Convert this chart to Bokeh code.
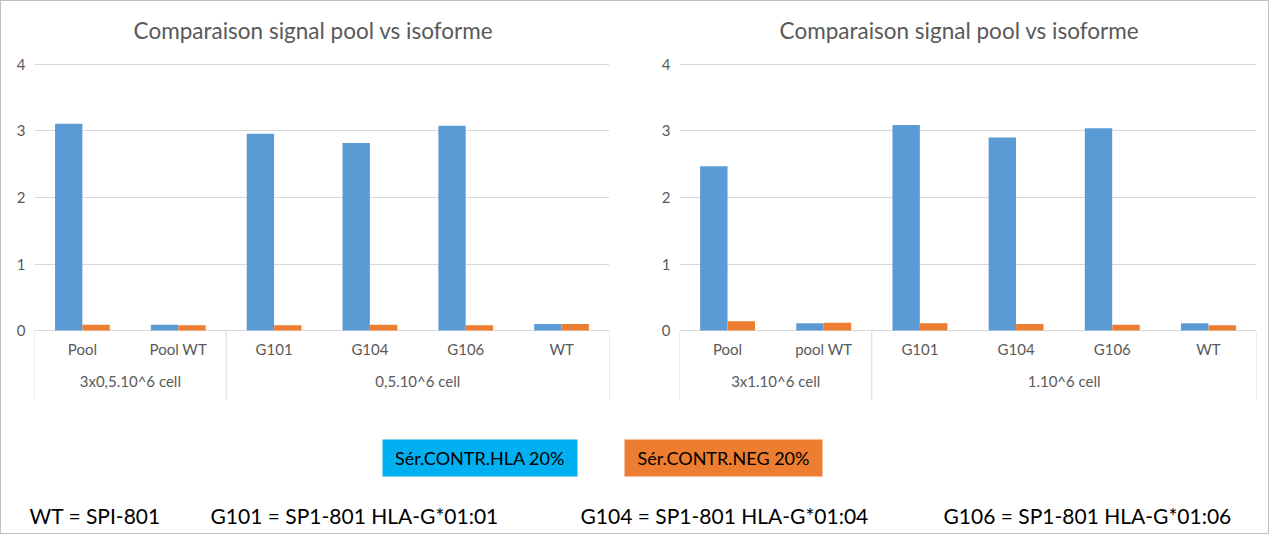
from bokeh.plotting import figure
from bokeh.models import FactorRange, Range1d, FixedTicker, ColumnDataSource
from bokeh.transform import dodge
from bokeh.layouts import column, row
from bokeh.core.properties import value
from bokeh.embed import file_html
from bokeh.resources import INLINE

title_text = "Comparaison signal pool vs isoforme"
series_names = ["Sér.CONTR.HLA 20%", "Sér.CONTR.NEG 20%"]
series_colors = ["#5B9BD5", "#ED7D31"]
legend_colors = ["#00B0F0", "#ED7D31"]

left_groups = ["3x0,5.10^6 cell", "0,5.10^6 cell"]
left_cats = [["Pool", "Pool WT"], ["G101", "G104", "G106", "WT"]]
left_hla = [3.11, 0.09, 2.96, 2.82, 3.08, 0.10]
left_neg = [0.09, 0.08, 0.08, 0.09, 0.08, 0.10]

right_groups = ["3x1.10^6 cell", "1.10^6 cell"]
right_cats = [["Pool", "pool WT"], ["G101", "G104", "G106", "WT"]]
right_hla = [2.47, 0.11, 3.09, 2.90, 3.04, 0.11]
right_neg = [0.14, 0.12, 0.11, 0.10, 0.09, 0.08]

y_ticks = [0, 1, 2, 3, 4]
notes = ["WT = SPI-801", "G101 = SP1-801 HLA-G*01:01",
         "G104 = SP1-801 HLA-G*01:04", "G106 = SP1-801 HLA-G*01:06"]

FONT = "Lato"
GRAY = "#595959"
GRID = "#D9D9D9"


def make_chart(groups, cats, hla, neg, width, left, right):
    factors = [(g, c) for g, cs in zip(groups, cats) for c in cs]
    n = len(factors)
    xr = FactorRange(*factors, factor_padding=0, group_padding=0, range_padding=0)
    p = figure(width=width, height=412, x_range=xr, y_range=Range1d(-1.05, 4.75),
               x_axis_location=None, output_backend="svg", toolbar_location=None,
               min_border_left=left, min_border_right=right, min_border_top=13,
               min_border_bottom=13, outline_line_color=None)

    # chart title, drawn as text in the header band above the value 4
    p.text(x=[n / 2 - 0.09], y=[4.51], text=[title_text], text_font=value(FONT),
           text_font_size="22.5px", text_color=GRAY, text_align="center",
           text_baseline="middle")

    src = ColumnDataSource(dict(x=factors, hla=hla, neg=neg,
                                cat=[c for cs in cats for c in cs]))
    p.vbar(x=dodge('x', -0.143, range=xr), top='hla', width=0.285, source=src,
           fill_color=series_colors[0], line_color=None)
    p.vbar(x=dodge('x', 0.143, range=xr), top='neg', width=0.285, source=src,
           fill_color=series_colors[1], line_color=None)

    # category labels
    p.text(x='x', y=-0.27, text='cat', source=src, text_font=value(FONT),
           text_font_size="15px", text_color=GRAY, text_align="center",
           text_baseline="middle")
    # group labels
    p.text(x=groups, y=[-0.75] * len(groups), text=groups, text_font=value(FONT),
           text_font_size="15px", text_color=GRAY, text_align="center",
           text_baseline="middle")
    # separators at group boundaries
    bounds = [0]
    for cs in cats:
        bounds.append(bounds[-1] + len(cs))
    p.segment(x0=bounds, x1=bounds, y0=[0] * len(bounds),
              y1=[-1.05] * len(bounds), line_color=GRID, line_width=1)

    p.yaxis.ticker = FixedTicker(ticks=y_ticks)
    p.yaxis.axis_line_color = None
    p.yaxis.major_tick_line_color = None
    p.yaxis.minor_tick_line_color = None
    p.yaxis.major_tick_out = 0
    p.yaxis.major_tick_in = 0
    p.yaxis.minor_tick_out = 0
    p.yaxis.major_label_text_font = FONT
    p.yaxis.major_label_text_font_size = "15px"
    p.yaxis.major_label_text_color = GRAY
    p.yaxis.major_label_standoff = 9
    p.ygrid.grid_line_color = GRID
    p.ygrid.ticker = FixedTicker(ticks=y_ticks)
    p.xgrid.grid_line_color = None
    return p


p1 = make_chart(left_groups, left_cats, left_hla, left_neg, 634, 33, 26)
p2 = make_chart(right_groups, right_cats, right_hla, right_neg, 633, 44, 12)

p3 = figure(width=1267, height=120, x_range=Range1d(0, 1267), y_range=Range1d(0, 120),
            x_axis_location=None, y_axis_location=None, output_backend="svg",
            toolbar_location=None, min_border=0, outline_line_color=None)
p3.xgrid.grid_line_color = None
p3.ygrid.grid_line_color = None
box_left = [381, 623]
box_right = [576, 821]
p3.quad(left=box_left, right=box_right, top=[94, 94], bottom=[57, 57],
        fill_color=legend_colors, line_color=None)
p3.text(x=[(a + b) / 2 for a, b in zip(box_left, box_right)], y=[76, 76],
        text=series_names, text_font=value(FONT), text_font_size="18px",
        text_color="black", text_align="center", text_baseline="middle")
p3.text(x=[28, 209, 579, 942], y=[18] * 4, text=notes, text_font=value(FONT),
        text_font_size="21px", text_color="black", text_align="left",
        text_baseline="middle")

layout = column(row(p1, p2), p3, styles={"border": "1px solid #BFBFBF"})

with open("out.html", "w") as f:
    f.write(file_html(layout, INLINE))
